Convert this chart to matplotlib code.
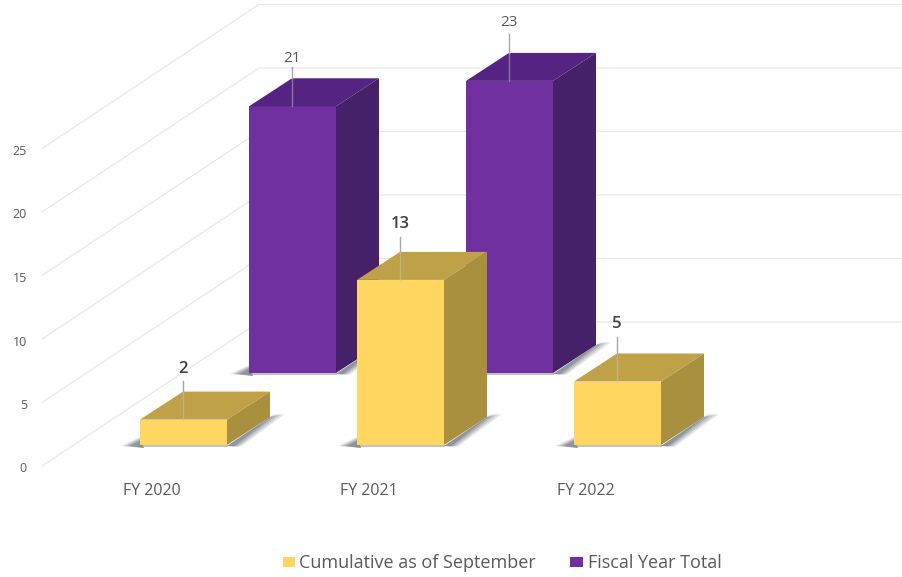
import matplotlib
matplotlib.use("Agg")
import matplotlib.pyplot as plt
from matplotlib.patches import Polygon, Rectangle

plt.rcParams['font.family'] = ['Open Sans', 'DejaVu Sans']

# data
years = ['FY 2020', 'FY 2021', 'FY 2022']
cumulative = [2, 13, 5]
fiscal_total = [21, 23, None]
y_ticks = [0, 5, 10, 15, 20, 25]
legend_labels = ['Cumulative as of September', 'Fiscal Year Total']

# colours: front, side, top
yellow = ('#FFD65F', '#A8903F', '#BFA148')
purple = ('#7030A0', '#47206A', '#552382')
grey = '#595959'
grid_col = '#E8E8E8'

# oblique projection, in pixels of the 903x577 picture
px_per_unit = 12.7
cat_step = 217
bar_w = 87
depth_x, depth_y = 43, 28

# how far above the bar the leader ends and the label sits (leader, label)
front_lift = [(39, 51), (43, 56), (45, 57)]
back_lift = [(39, 48), (47, 58), None]


def floor_point(cat, row):
    # row 0 = front bars, row 1 = back bars
    return 140 + cat * cat_step + row * 109, 445 - row * 72


fig = plt.figure(figsize=(9.03, 5.77), dpi=100)
ax = fig.add_axes([0, 0, 1, 1])
ax.set_xlim(0, 903)
ax.set_ylim(577, 0)
ax.axis('off')

# walls
for v in y_ticks:
    yl = 466 - v * px_per_unit
    yb = 322 - v * px_per_unit
    ax.plot([42, 259, 903], [yl, yb, yb], color=grid_col, lw=0.9, zorder=1)
    ax.text(27, yl + 3, str(v), ha='right', va='center', fontsize=9, color=grey)


def draw_shadow(x0, y0, z):
    # soft shadow, built up from a few see-through polygons
    x1 = x0 + bar_w
    for grow, alpha in [(10, 0.16), (7, 0.20), (4, 0.26), (1, 0.32)]:
        ax.add_patch(Polygon([(x0 - 9 - grow, y0 + 1), (x0, y0 - 4 - grow * 0.4),
                              (x0 + 4, y0 + 3)],
                             closed=True, fc='#59616B', ec='none', alpha=alpha, zorder=z))
        ax.add_patch(Polygon([(x1, y0 + 1), (x1 + depth_x, y0 - depth_y),
                              (x1 + depth_x + 5 + grow, y0 - depth_y - 4 + grow * 0.1),
                              (x1 + 6 + grow * 0.8, y0 + 1.5)],
                             closed=True, fc='#59616B', ec='none', alpha=alpha, zorder=z))
    ax.plot([x0, x1], [y0 + 1, y0 + 1], color='#8A8578', alpha=0.55, lw=1.3, zorder=z)


def draw_bar(cat, row, value, cols, lift, z):
    x0, y0 = floor_point(cat, row)
    top = y0 - value * px_per_unit
    x1 = x0 + bar_w
    draw_shadow(x0, y0, z)
    ax.add_patch(Rectangle((x0, top), bar_w, y0 - top, fc=cols[0], ec='none', zorder=z + 1))
    ax.add_patch(Polygon([(x1, top), (x1 + depth_x, top - depth_y),
                          (x1 + depth_x, y0 - depth_y), (x1, y0)],
                         closed=True, fc=cols[1], ec='none', zorder=z + 1))
    ax.add_patch(Polygon([(x0, top), (x0 + depth_x, top - depth_y),
                          (x1 + depth_x, top - depth_y), (x1, top)],
                         closed=True, fc=cols[2], ec='none', zorder=z + 1))
    # leader and value label
    xm = x0 + bar_w / 2 - 0.5
    ax.plot([xm, xm], [top - lift[0], top - depth_y], color='#A6A6A6', lw=1.0, zorder=z + 2)
    ax.plot([xm, xm], [top - depth_y, top], color='#C9C4B8', alpha=0.5, lw=1.0, zorder=z + 2)
    ax.text(xm, top - lift[1], str(value), ha='center', va='center',
            fontsize=12 if row == 0 else 11, color='#404040' if row == 0 else grey,
            fontweight='semibold' if row == 0 else 'normal', zorder=z + 3)


for i, v in enumerate(fiscal_total):
    if v is not None:
        draw_bar(i, 1, v, purple, back_lift[i], 3)
for i, v in enumerate(cumulative):
    draw_bar(i, 0, v, yellow, front_lift[i], 7)

# category labels
for i, name in enumerate(years):
    ax.text(151.5 + i * cat_step, 491, name, ha='center', va='center', fontsize=11.5, color=grey)

# legend
ax.add_patch(Rectangle((283, 557), 12, 10, fc=yellow[0], ec='none'))
ax.text(299, 563, legend_labels[0], ha='left', va='center', fontsize=13, color=grey)
ax.add_patch(Rectangle((570, 557), 13, 10, fc=purple[0], ec='none'))
ax.text(588, 563, legend_labels[1], ha='left', va='center', fontsize=13, color=grey)

fig.savefig('out.png', dpi=100)
